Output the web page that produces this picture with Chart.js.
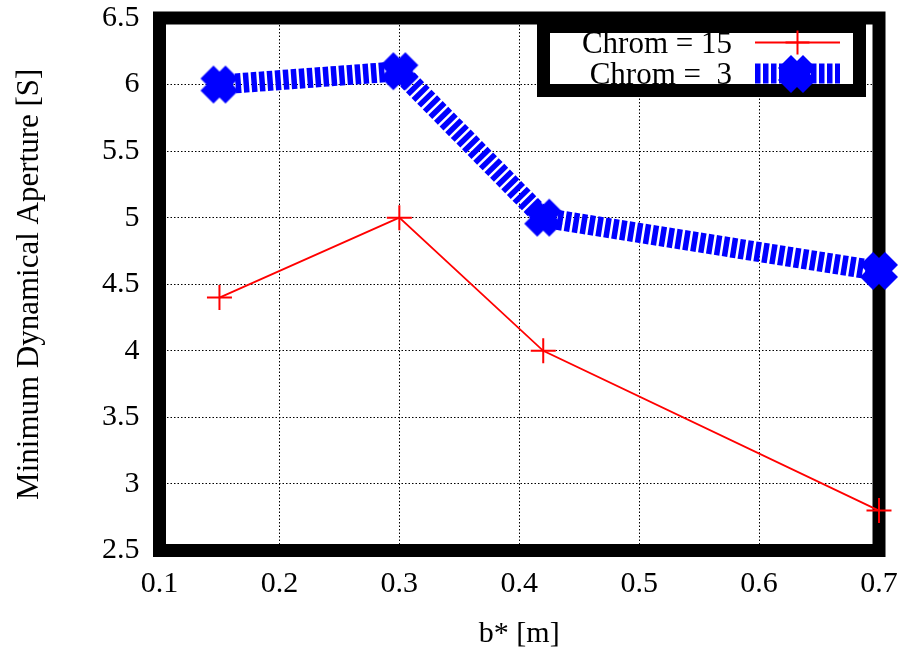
<!DOCTYPE html>
<html><head><meta charset="utf-8">
<script src="https://cdn.jsdelivr.net/npm/chart.js@4/dist/chart.umd.min.js"></script>
<style>html,body{margin:0;padding:0;background:#fff;}</style>
</head><body>
<canvas id="c" width="903" height="648"></canvas>
<script>
// ---- data ----
const bStar = [0.15, 0.30, 0.42, 0.70];
const chrom15 = [4.4, 5.0, 4.0, 2.8];
const chrom3 = [6.0, 6.1, 5.0, 4.6];
const seriesLabels = ['Chrom = 15', 'Chrom =  3'];
const xTitle = 'b* [m]';
const yTitle = 'Minimum Dynamical Aperture [S]';
const xRange = [0.1, 0.7];
const yRange = [2.5, 6.5];

const SERIF = '"Liberation Serif", "Times New Roman", serif';
const RED = '#ff0000', BLUE = '#0000ff';
const fmt = v => String(+(+v).toFixed(3));

function makeMarker() {
  const c = document.createElement('canvas');
  c.width = 40; c.height = 40;
  const g = c.getContext('2d');
  g.fillStyle = BLUE;
  const d = 6, r = 13;
  for (const [dx, dy] of [[-d, -d], [d, -d], [-d, d], [d, d]]) {
    const cx = 20 + dx, cy = 20 + dy;
    g.beginPath();
    g.moveTo(cx, cy - r); g.lineTo(cx + r, cy); g.lineTo(cx, cy + r); g.lineTo(cx - r, cy);
    g.closePath(); g.fill();
  }
  return c;
}
const blueMarker = makeMarker();

const frame = {
  id: 'frame',
  beforeDatasetsDraw(chart) {
    const a = chart.chartArea, ctx = chart.ctx;
    ctx.save();
    ctx.strokeStyle = '#000';
    ctx.lineWidth = 13;
    ctx.strokeRect(a.left, a.top, a.right - a.left, a.bottom - a.top);
    ctx.restore();
  }
};

const keyBox = {
  id: 'keyBox',
  afterDraw(chart) {
    const ctx = chart.ctx;
    const ds = chart.data.datasets;
    ctx.save();
    ctx.fillStyle = '#fff';
    ctx.fillRect(543.5, 26.5, 316, 64);
    ctx.fillStyle = '#000';
    ctx.font = '31px ' + SERIF;
    ctx.textAlign = 'right';
    ctx.textBaseline = 'alphabetic';
    ctx.fillText(ds[0].label, 732, 53);
    ctx.fillText(ds[1].label, 732, 84);
    ctx.strokeStyle = BLUE;
    ctx.lineWidth = 20;
    ctx.setLineDash([5.5, 2.5]);
    ctx.beginPath(); ctx.moveTo(755, 73.5); ctx.lineTo(840, 73.5); ctx.stroke();
    ctx.setLineDash([]);
    ctx.strokeStyle = '#000';
    ctx.lineWidth = 13;
    ctx.strokeRect(543.5, 26.5, 316, 64);
    ctx.strokeStyle = RED;
    ctx.lineWidth = 1.8;
    ctx.beginPath(); ctx.moveTo(755, 42.5); ctx.lineTo(840, 42.5); ctx.stroke();
    ctx.lineWidth = 2;
    ctx.beginPath();
    ctx.moveTo(797.5 - 12, 42.5); ctx.lineTo(797.5 + 12, 42.5);
    ctx.moveTo(797.5, 30.5); ctx.lineTo(797.5, 54.5);
    ctx.stroke();
    ctx.drawImage(blueMarker, 797 - 20, 74 - 20, 40, 40);
    ctx.restore();
  }
};

new Chart(document.getElementById('c'), {
  type: 'line',
  data: {
    datasets: [
      {
        label: seriesLabels[0],
        data: bStar.map((x, i) => ({x, y: chrom15[i]})),
        borderColor: RED, backgroundColor: RED,
        borderWidth: 1.8,
        pointStyle: 'cross', pointRadius: 12.5, pointBorderWidth: 2,
        pointBorderColor: RED,
        fill: false, tension: 0, clip: false
      },
      {
        label: seriesLabels[1],
        data: bStar.map((x, i) => ({x, y: chrom3[i]})),
        borderColor: BLUE, backgroundColor: BLUE,
        borderWidth: 20, borderDash: [5.5, 2.5], borderCapStyle: 'butt',
        pointStyle: blueMarker, pointRadius: 19,
        fill: false, tension: 0, clip: false
      }
    ]
  },
  options: {
    responsive: false,
    animation: false,
    devicePixelRatio: 1,
    layout: { autoPadding: false, padding: { top: 18, right: 24, left: 0, bottom: 0 } },
    plugins: { legend: { display: false }, tooltip: { enabled: false } },
    scales: {
      x: {
        type: 'linear', min: xRange[0], max: xRange[1],
        ticks: { stepSize: 0.1, color: '#000', padding: 16, maxRotation: 0, autoSkip: false,
                 font: { family: SERIF, size: 30 }, callback: fmt },
        grid: { color: '#000', lineWidth: 1, drawTicks: false },
        border: { display: false, dash: [1.5, 2] },
        title: { display: true, text: xTitle, color: '#000',
                 font: { family: SERIF, size: 30, lineHeight: 0.95 }, padding: { top: 0, bottom: 0 } },
        afterFit(s) { s.height = 97.5; s.paddingLeft = 0; s.paddingRight = 0; }
      },
      y: {
        type: 'linear', min: yRange[0], max: yRange[1],
        ticks: { stepSize: 0.5, color: '#000', padding: 20,
                 font: { family: SERIF, size: 30 }, callback: fmt },
        grid: { color: '#000', lineWidth: 1, drawTicks: false },
        border: { display: false, dash: [1.5, 2] },
        title: { display: true, text: yTitle, color: '#000',
                 font: { family: SERIF, size: 31 }, padding: { top: 11, bottom: 0 } },
        afterFit(s) { s.width = 159.5; s.paddingTop = 0; s.paddingBottom = 0; }
      }
    }
  },
  plugins: [frame, keyBox]
});
</script>
</body></html>
